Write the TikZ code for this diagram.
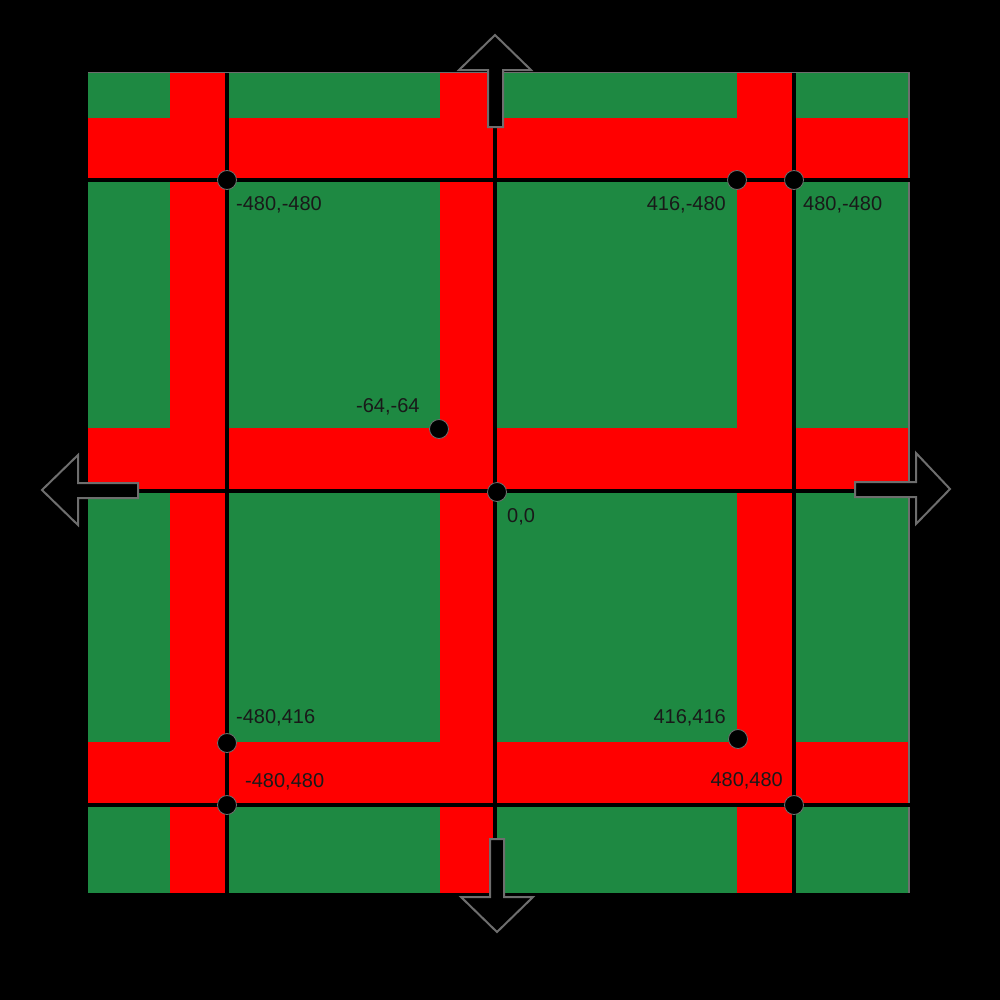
\documentclass[tikz,border=0pt]{standalone}
\usepackage{fontspec}
\setmainfont{Liberation Sans}
\definecolor{grn}{RGB}{30,137,66}
\definecolor{rd}{RGB}{255,0,0}
\definecolor{edge}{RGB}{110,110,110}
\begin{document}
\begin{tikzpicture}[x=1bp,y=-1bp,
  band/.style={fill=rd,draw=none},
  gridline/.style={draw=black,line width=4bp},
  pt/.style={circle,fill=black,draw=edge,line width=0.8bp,minimum size=19bp,inner sep=0pt},
  lbl/.style={font=\fontsize{20bp}{22bp}\selectfont,text=black!90,inner sep=0pt},
  blockarrow/.style={fill=black,draw=edge,line width=2bp,line join=miter}]
\useasboundingbox (0,0) rectangle (1000,1000);
\fill[black] (0,0) rectangle (1000,1000);
% green square
\fill[grn] (88,73) rectangle (908,893);
% red bands
\fill[band] (170,73) rectangle (227,893);
\fill[band] (440,73) rectangle (495,893);
\fill[band] (737,73) rectangle (794,893);
\fill[band] (88,118) rectangle (908,180);
\fill[band] (88,428) rectangle (908,491);
\fill[band] (88,742) rectangle (908,805);
% thin edge
\draw[edge,line width=1.5bp] (88,72.5) -- (909,72.5) -- (909,893);
% grid lines
\draw[gridline] (227,73) -- (227,893);
\draw[gridline] (495,73) -- (495,893);
\draw[gridline] (794,73) -- (794,893);
\draw[gridline] (88,180) -- (910,180);
\draw[gridline] (88,491) -- (910,491);
\draw[gridline] (88,805) -- (910,805);
% arrows
\draw[blockarrow] (488,127) -- (488,70) -- (459,70) -- (495,35) -- (531,70) -- (503,70) -- (503,127) -- cycle;
\draw[blockarrow] (490,839) -- (504,839) -- (504,897) -- (533,897) -- (497,932) -- (461,897) -- (490,897) -- cycle;
\draw[blockarrow] (138,483) -- (78,483) -- (78,455) -- (42,490) -- (78,525) -- (78,498) -- (138,498) -- cycle;
\draw[blockarrow] (855,482) -- (916,482) -- (916,453) -- (950,489) -- (916,524) -- (916,497) -- (855,497) -- cycle;
% points
\node[pt] (p1) at (227,180) {};
\node[pt] (p2) at (737,180) {};
\node[pt] (p3) at (794,180) {};
\node[pt] (p4) at (439,429) {};
\node[pt] (p5) at (497,492) {};
\node[pt] (p6) at (227,743) {};
\node[pt] (p7) at (738,739) {};
\node[pt] (p8) at (227,805) {};
\node[pt] (p9) at (794,805) {};
% labels
\node[lbl,anchor=base west] (l1) at (236,210) {-480,-480};
\node[lbl,anchor=base east] (l2) at (726,210) {416,-480};
\node[lbl,anchor=base west] (l3) at (803,210) {480,-480};
\node[lbl,anchor=base west] (l4) at (356,412) {-64,-64};
\node[lbl,anchor=base west] (l5) at (507,522) {0,0};
\node[lbl,anchor=base west] (l6) at (236,723) {-480,416};
\node[lbl,anchor=base west] (l7) at (245,787) {-480,480};
\node[lbl,anchor=base east] (l8) at (726,723) {416,416};
\node[lbl,anchor=base east] (l9) at (783,786) {480,480};
\end{tikzpicture}
\end{document}
